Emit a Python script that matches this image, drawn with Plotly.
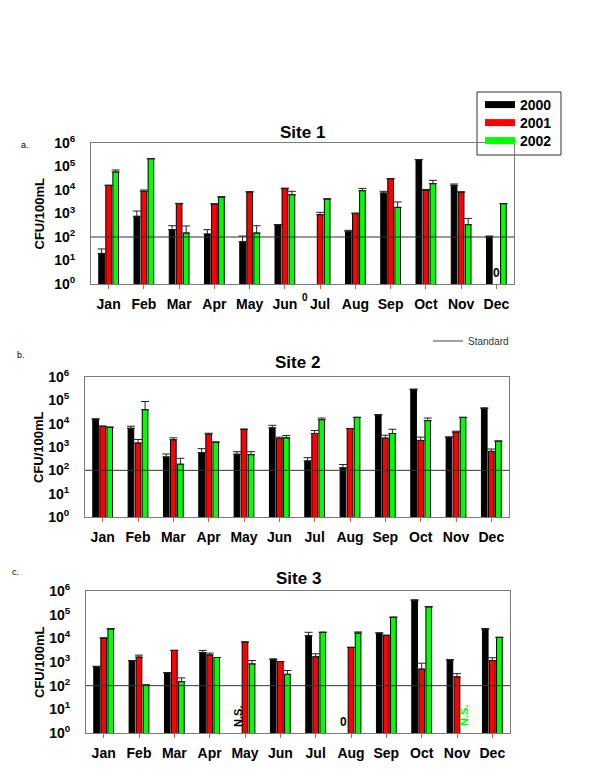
import plotly.graph_objects as go

# ---------------- data ----------------
months = ["Jan", "Feb", "Mar", "Apr", "May", "Jun", "Jul", "Aug", "Sep", "Oct", "Nov", "Dec"]
years = ["2000", "2001", "2002"]
site_titles = ["Site 1", "Site 2", "Site 3"]
panel_letters = ["a.", "b.", "c."]
STANDARD = 100

# CFU/100mL means (None = zero / not sampled) and top of error bars
site1_2000 = [20, 760, 205, 134, 63, 335, None, 168, 7450, 195000, 15800, 107]
site1_2000_top = [31, 1270, 302, 205, 110, 335, None, 192, 8770, 195000, 18000, 107]
site1_2001 = [15800, 8770, 2630, 2530, 8180, 11400, 890, 1020, 30300, 9700, 8200, None]
site1_2001_top = [15800, 10000, 2700, 2600, 8500, 12000, 1120, 1020, 30300, 10500, 8200, None]
site1_2002 = [58600, 215000, 148, 4900, 148, 6300, 4150, 9340, 1820, 18600, 335, 2630]
site1_2002_top = [71000, 215000, 295, 5200, 302, 8800, 4150, 11700, 3090, 25700, 620, 2630]

site2_2000 = [15800, 6330, 375, 575, 490, 6600, 253, 128, 24100, 297000, 2650, 46400]
site2_2000_top = [15800, 7770, 500, 850, 630, 8500, 350, 178, 24100, 297000, 2650, 46400]
site2_2001 = [7770, 1480, 2040, 3550, 5760, 2330, 3800, 6170, 2400, 1910, 4300, 650]
site2_2001_top = [7770, 2100, 2470, 3900, 5760, 2650, 5100, 6170, 3200, 2650, 4750, 820]
site2_2002 = [7040, 39600, 183, 1620, 470, 2470, 14800, 18600, 3800, 13500, 18600, 1790]
site2_2002_top = [7040, 89000, 328, 1620, 630, 3100, 17500, 18600, 5760, 17500, 18600, 1790]

site3_2000 = [645, 1150, 357, 2530, None, 1320, 13000, None, 16800, 415000, 1240, 25100]
site3_2000_top = [660, 1150, 357, 3090, None, 1320, 18000, None, 16800, 415000, 1240, 25100]
site3_2001 = [10300, 1610, 3090, 2000, 6960, 1050, 1660, 4150, 13400, 500, 234, 1150]
site3_2001_top = [10300, 1950, 3090, 2380, 6960, 1050, 2230, 4150, 13400, 890, 324, 1510]
site3_2002 = [25000, 107, 148, 1550, 830, 302, 18000, 16800, 78000, 215000, None, 11000]
site3_2002_top = [25500, 107, 213, 1550, 1150, 436, 18000, 18600, 78000, 215000, None, 11000]

# markers for missing bars: (site, month, year index, text)
notes = [
    (1, "Jul", 0, "0"),
    (1, "Dec", 1, "0"),
    (3, "May", 0, "N.S."),
    (3, "Aug", 0, "0"),
    (3, "Nov", 2, "N.S."),
]

sites = [
    [(site1_2000, site1_2000_top), (site1_2001, site1_2001_top), (site1_2002, site1_2002_top)],
    [(site2_2000, site2_2000_top), (site2_2001, site2_2001_top), (site2_2002, site2_2002_top)],
    [(site3_2000, site3_2000_top), (site3_2001, site3_2001_top), (site3_2002, site3_2002_top)],
]

# ---------------- style ----------------
W, H = 600, 777
FONT = "Liberation Sans, Arial, Helvetica, sans-serif"
colors = ["#000000", "#ff0000", "#00ff00"]
# plot boxes in pixels: (left, right, top, bottom)
boxes = [(91, 514, 143, 284), (85, 509, 377, 517), (86, 510, 591, 733)]
title_y = [132, 363, 578]
letter_pos = [(25, 145), (21, 355), (15, 572)]
legend_box = (477, 561, 92, 155)
legend_rows = [105, 123, 141]
legend_ids = ["legend", "legend3", "legend4"]

fig = go.Figure()

for s, series in enumerate(sites):
    ax = "" if s == 0 else str(s + 1)
    for k, (vals, tops) in enumerate(series):
        err = [(t - v) if (v is not None and t is not None) else 0 for v, t in zip(vals, tops)]
        fig.add_trace(go.Bar(
            x=months, y=vals, name=years[k],
            xaxis="x" + ax, yaxis="y" + ax,
            marker=dict(color=colors[k], line=dict(color="#000000", width=1)),
            error_y=dict(type="data", symmetric=False, array=err,
                         arrayminus=[0] * len(err), color="#222222",
                         thickness=1, width=4),
            showlegend=False,
        ))

# legend entries (wide swatches), one small legend per row
for k in range(3):
    fig.add_trace(go.Scatter(
        x=[None], y=[None], mode="lines", name=years[k],
        line=dict(color=colors[k], width=7), xaxis="x", yaxis="y",
        legend=legend_ids[k], showlegend=True,
    ))
fig.add_trace(go.Scatter(
    x=[None], y=[None], mode="lines", name="Standard",
    line=dict(color="#444444", width=1), xaxis="x", yaxis="y",
    legend="legend2", showlegend=True,
))

layout = dict(
    width=W, height=H,
    margin=dict(l=0, r=0, t=0, b=0),
    paper_bgcolor="white", plot_bgcolor="white",
    barmode="group", bargap=0.4, bargroupgap=0.2,
    font=dict(family=FONT, color="#000000"),
    legend2=dict(
        x=428 / W, y=1 - 341 / H, xanchor="left", yanchor="middle",
        bgcolor="rgba(0,0,0,0)", borderwidth=0,
        font=dict(family=FONT, size=10, color="#333333"),
        itemwidth=30,
    ),
)
for k, lid in enumerate(legend_ids):
    layout[lid] = dict(
        x=480 / W, y=1 - legend_rows[k] / H, xanchor="left", yanchor="middle",
        bgcolor="rgba(0,0,0,0)", borderwidth=0,
        font=dict(family=FONT, size=14, weight="bold", color="#000000"),
        itemwidth=30,
    )

tickvals = [10 ** i for i in range(7)]
ticktext = ["10<sup>%d</sup>" % i for i in range(7)]

shapes = []
annotations = []
lbx0, lbx1, lby0, lby1 = legend_box
shapes.append(dict(
    type="rect", xref="paper", yref="paper",
    x0=lbx0 / W, x1=lbx1 / W, y0=1 - lby1 / H, y1=1 - lby0 / H,
    line=dict(color="#333333", width=1), fillcolor="rgba(0,0,0,0)", layer="below",
))

for s, (l, r, t, b) in enumerate(boxes):
    ax = "" if s == 0 else str(s + 1)
    layout["xaxis" + ax] = dict(
        domain=[l / W, r / W], anchor="y" + ax,
        categoryorder="array", categoryarray=months,
        showline=True, mirror=True, linecolor="#7a7a7a", linewidth=1,
        ticks="outside", ticklen=4, tickcolor="#c8643c", tickwidth=1,
        ticklabelstandoff=3,
        tickfont=dict(family=FONT, size=14, weight="bold", color="#000000"),
        showgrid=False, zeroline=False, fixedrange=True, automargin=False,
    )
    layout["yaxis" + ax] = dict(
        domain=[1 - b / H, 1 - t / H], anchor="x" + ax,
        type="log", range=[0, 6],
        tickvals=tickvals, ticktext=ticktext,
        showline=True, mirror=True, linecolor="#7a7a7a", linewidth=1,
        ticks="", ticklabelstandoff=12,
        tickfont=dict(family=FONT, size=14, weight="bold", color="#000000"),
        showgrid=False, zeroline=False, fixedrange=True, automargin=False,
    )
    # standard line
    shapes.append(dict(
        type="line", xref="x" + ax + " domain", yref="y" + ax,
        x0=0, x1=1, y0=STANDARD, y1=STANDARD,
        line=dict(color="#333333", width=1),
    ))
    # titles
    annotations.append(dict(
        text="<b>%s</b>" % site_titles[s], xref="paper", yref="paper",
        x=(l + r) / 2 / W, y=1 - title_y[s] / H, xanchor="center", yanchor="middle",
        showarrow=False, font=dict(family=FONT, size=17, color="#000000"),
    ))
    annotations.append(dict(
        text="<b>CFU/100mL</b>", xref="paper", yref="paper",
        x=39 / W, y=1 - (t + b) / 2 / H, xanchor="center", yanchor="middle",
        textangle=-90, showarrow=False,
        font=dict(family=FONT, size=13, color="#000000"),
    ))
    lx, ly = letter_pos[s]
    annotations.append(dict(
        text=panel_letters[s], xref="paper", yref="paper",
        x=lx / W, y=1 - ly / H, xanchor="center", yanchor="middle",
        showarrow=False, font=dict(family=FONT, size=9, color="#000000"),
    ))

# zero / not-sampled notes
slot_px = [((r - l) / 12) * 0.6 / 3 for (l, r, t, b) in boxes]
for site, month, k, txt in notes:
    s = site - 1
    ax = "" if s == 0 else str(s + 1)
    xshift = (k - 1) * slot_px[s]
    rotated = txt != "0"
    if site == 1 and month == "Jul":
        yshift = -13
        xshift -= 8
        size = 10
    elif rotated:
        yshift = 17
        size = 11
    else:
        yshift = 11
        size = 12
    annotations.append(dict(
        text="<b>%s</b>" % txt, xref="x" + ax, yref="y" + ax,
        x=month, y=0, xshift=xshift, yshift=yshift,
        xanchor="center", yanchor="middle", showarrow=False,
        textangle=-90 if rotated else 0,
        font=dict(family=FONT, size=size, color=colors[k] if rotated else "#000000"),
    ))

layout["shapes"] = shapes
layout["annotations"] = annotations
fig.update_layout(**layout)

fig.write_html("out.html", config={"displayModeBar": False},
               post_script="document.body.style.margin='0px';")
